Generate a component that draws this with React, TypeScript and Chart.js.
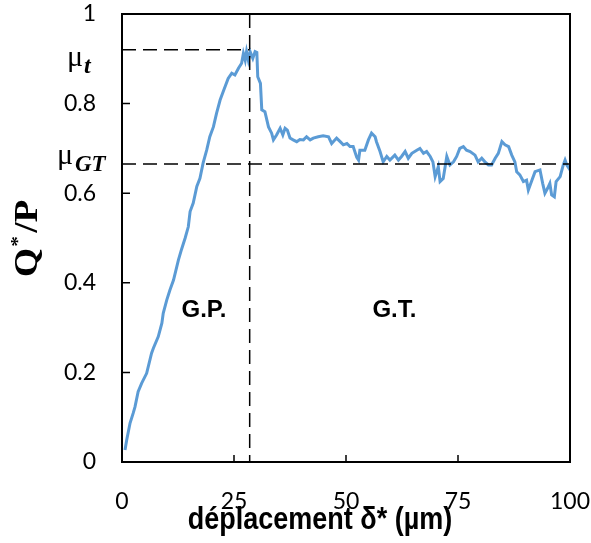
import React, { useEffect, useRef } from "react";
import { Chart, registerables } from "chart.js";
Chart.register(...registerables);

// déplacement δ* (µm)
const displacement = [
  0.67, 1.05, 1.8, 2.5, 2.9, 3.6, 4.4, 5.5, 6.6, 7.0, 8.1, 8.9, 9.2, 10.0, 10.7, 11.5, 12.6, 13.3, 14.1, 14.8,
  15.2, 15.9, 16.7, 17.4, 18.1, 18.9, 19.6, 20.4, 21.1, 21.9, 22.6, 23.7, 24.5, 25.2, 26.0, 26.7, 27.1, 27.5, 27.8, 28.2,
  28.6, 29.2, 29.7, 30.1, 30.3, 30.9, 31.2, 31.9, 32.7, 33.4, 33.8, 34.5, 35.3, 35.9, 36.4, 36.9, 37.5, 38.2, 39.0, 39.7,
  40.5, 41.2, 42.0, 42.7, 43.8, 44.9, 46.1, 46.8, 47.9, 48.7, 49.4, 50.2, 50.9, 51.6, 52.4, 52.8, 53.1, 54.2, 55.0, 55.7,
  56.5, 56.8, 57.6, 58.3, 59.1, 59.8, 60.9, 61.7, 62.4, 63.2, 63.9, 64.7, 65.8, 66.5, 67.3, 68.0, 68.8, 69.4, 69.9, 70.6,
  71.0, 71.7, 72.5, 73.2, 74.0, 74.7, 75.4, 76.2, 76.9, 77.7, 78.8, 79.5, 80.3, 81.0, 81.8, 82.5, 83.3, 84.0, 84.8, 85.5,
  86.3, 87.0, 87.7, 88.1, 88.8, 89.6, 90.3, 90.7, 91.5, 92.2, 93.3, 93.9, 94.4, 95.0, 95.5, 95.9, 96.5, 96.9, 97.8, 98.5,
  98.9, 99.3, 100,
];

// Q*/P
const frictionRatio = [
  0.027, 0.049, 0.087, 0.109, 0.123, 0.157, 0.176, 0.198, 0.243, 0.254, 0.28, 0.31, 0.332, 0.362, 0.384, 0.406, 0.451, 0.475, 0.5, 0.525,
  0.559, 0.578, 0.615, 0.633, 0.667, 0.696, 0.726, 0.748, 0.778, 0.808, 0.827, 0.856, 0.868, 0.864, 0.879, 0.89, 0.912, 0.897, 0.916, 0.897,
  0.916, 0.901, 0.916, 0.914, 0.86, 0.845, 0.786, 0.782, 0.748, 0.734, 0.719, 0.73, 0.745, 0.73, 0.745, 0.741, 0.723, 0.719, 0.715, 0.72,
  0.719, 0.726, 0.719, 0.723, 0.726, 0.728, 0.726, 0.711, 0.723, 0.715, 0.708, 0.711, 0.704, 0.704, 0.68, 0.674, 0.696, 0.696, 0.719, 0.734,
  0.726, 0.715, 0.693, 0.67, 0.682, 0.674, 0.685, 0.674, 0.682, 0.693, 0.678, 0.689, 0.696, 0.7, 0.689, 0.693, 0.682, 0.67, 0.637, 0.659,
  0.626, 0.633, 0.682, 0.663, 0.67, 0.682, 0.7, 0.704, 0.696, 0.693, 0.685, 0.67, 0.678, 0.67, 0.663, 0.663, 0.678, 0.689, 0.715, 0.708,
  0.704, 0.685, 0.67, 0.648, 0.641, 0.626, 0.629, 0.607, 0.629, 0.648, 0.652, 0.622, 0.6, 0.611, 0.622, 0.596, 0.592, 0.626, 0.637, 0.663,
  0.674, 0.663, 0.652,
];

// reference levels
const muT = 0.92;
const muGT = 0.665;
const deltaTransition = 28.5;
const xTicks = [0, 25, 50, 75, 100];
const yTicks = [0, 0.2, 0.4, 0.6, 0.8, 1];
const regionLabels = ["G.P.", "G.T."];
const regionX = [18.3, 60.8];
const regionY = 0.338;

const fmt = (v: number) => String(Number(Number(v).toFixed(2)));
const zeroPad = (s: any) => {
  s.paddingLeft = 0;
  s.paddingRight = 0;
  s.paddingTop = 0;
  s.paddingBottom = 0;
};
const STRETCH = 1.13;

export default function App() {
  const ref = useRef<HTMLCanvasElement>(null);

  useEffect(() => {
    const canvas = ref.current!;
    const annot = {
      id: "annot",
      afterDraw(chart: any) {
        const { ctx, chartArea: ca, scales } = chart;
        const xs = scales.x;
        const ys = scales.y;
        ctx.save();
        ctx.strokeStyle = "#000";
        ctx.lineWidth = 2;
        ctx.setLineDash([]);
        ctx.strokeRect(ca.left, ca.top, ca.right - ca.left, ca.bottom - ca.top);
        ctx.lineWidth = 1.5;
        ctx.beginPath();
        yTicks.forEach((v) => {
          const p = ys.getPixelForValue(v);
          ctx.moveTo(ca.left, p);
          ctx.lineTo(ca.left + 8, p);
        });
        xTicks.forEach((v) => {
          const p = xs.getPixelForValue(v);
          ctx.moveTo(p, ca.bottom);
          ctx.lineTo(p, ca.bottom - 7);
        });
        ctx.stroke();

        ctx.fillStyle = "#000";
        // region labels
        ctx.font = "bold 24px 'Liberation Sans', Arial, sans-serif";
        ctx.textAlign = "center";
        ctx.textBaseline = "middle";
        regionLabels.forEach((t, i) => {
          ctx.fillText(t, xs.getPixelForValue(regionX[i]), ys.getPixelForValue(regionY));
        });

        // mu labels
        ctx.textAlign = "left";
        ctx.textBaseline = "alphabetic";
        const pT = ys.getPixelForValue(muT);
        ctx.font = "30px 'Liberation Serif', serif";
        ctx.fillText("\u03bc", 67, pT + 16);
        ctx.font = "italic bold 24px 'Liberation Serif', serif";
        ctx.fillText("t", 84, pT + 23);
        const pG = ys.getPixelForValue(muGT);
        ctx.font = "30px 'Liberation Serif', serif";
        ctx.fillText("\u03bc", 57, pG);
        ctx.font = "italic bold 23px 'Liberation Serif', serif";
        ctx.fillText("GT", 75, pG + 7);

        // x title (slightly stretched vertically like the source)
        ctx.save();
        ctx.translate(320, 529);
        ctx.scale(1, STRETCH);
        ctx.font = "bold 27px 'Liberation Sans', Arial, sans-serif";
        ctx.textAlign = "center";
        ctx.fillText("d\u00e9placement \u03b4* (\u00b5m)", 0, 0);
        ctx.restore();

        // y title (rotated)
        ctx.translate(37, 277);
        ctx.rotate(-Math.PI / 2);
        ctx.scale(STRETCH, 1);
        ctx.textAlign = "left";
        ctx.font = "bold 33px 'Liberation Serif', serif";
        ctx.fillText("Q", 0, 0);
        const wQ = ctx.measureText("Q").width;
        ctx.font = "bold 19px 'Liberation Serif', serif";
        ctx.fillText("*", wQ + 1, -13);
        const wS = ctx.measureText("*").width;
        ctx.font = "bold 33px 'Liberation Serif', serif";
        ctx.fillText("/P", wQ + wS + 4, 0);
        ctx.restore();
      },
    };

    const chart = new Chart(canvas, {
      type: "line",
      data: {
        datasets: [
          {
            data: [
              { x: 0, y: muT },
              { x: deltaTransition, y: muT },
            ],
            borderColor: "#000",
            borderWidth: 1.5,
            borderDash: [14, 7],
            pointRadius: 0,
          },
          {
            data: [
              { x: 0, y: muGT },
              { x: 100, y: muGT },
            ],
            borderColor: "#000",
            borderWidth: 1.5,
            borderDash: [14, 7],
            pointRadius: 0,
          },
          {
            data: [
              { x: deltaTransition, y: 1 },
              { x: deltaTransition, y: 0 },
            ],
            borderColor: "#000",
            borderWidth: 1.5,
            borderDash: [14, 7],
            pointRadius: 0,
          },
          {
            data: displacement.map((x, i) => ({ x, y: frictionRatio[i] })),
            borderColor: "#5B9BD5",
            borderWidth: 3,
            pointRadius: 0,
            tension: 0,
          },
        ],
      },
      options: {
        responsive: false,
        animation: false,
        layout: { padding: { top: 14, right: 21, left: 0, bottom: 0 } },
        plugins: { legend: { display: false }, tooltip: { enabled: false } },
        scales: {
          x: {
            type: "linear",
            min: 0,
            max: 100,
            afterFit: (s: any) => {
              s.height = 81;
              zeroPad(s);
            },
            afterBuildTicks: (s: any) => {
              s.ticks = xTicks.map((v) => ({ value: v }));
            },
            grid: { display: false, drawTicks: false },
            border: { display: false },
            ticks: {
              padding: 26,
              color: "#000",
              font: { family: "Lato, 'Open Sans', sans-serif", size: 23 },
              maxRotation: 0,
              callback: (v: any) => fmt(v),
            },
          },
          y: {
            type: "linear",
            min: 0,
            max: 1,
            afterFit: (s: any) => {
              s.width = 122;
              zeroPad(s);
            },
            afterBuildTicks: (s: any) => {
              s.ticks = yTicks.map((v) => ({ value: v }));
            },
            grid: { display: false, drawTicks: false },
            border: { display: false },
            ticks: {
              padding: 26,
              color: "#000",
              font: { family: "Lato, 'Open Sans', sans-serif", size: 23 },
              callback: (v: any) => fmt(v),
            },
          },
        },
      },
      plugins: [annot],
    });
    return () => chart.destroy();
  }, []);

  return (
    <div style={{ position: "fixed", left: 0, top: 0, width: 591, height: 543, background: "#fff" }}>
      <canvas ref={ref} width={591} height={543} style={{ width: 591, height: 543 }} />
    </div>
  );
}
